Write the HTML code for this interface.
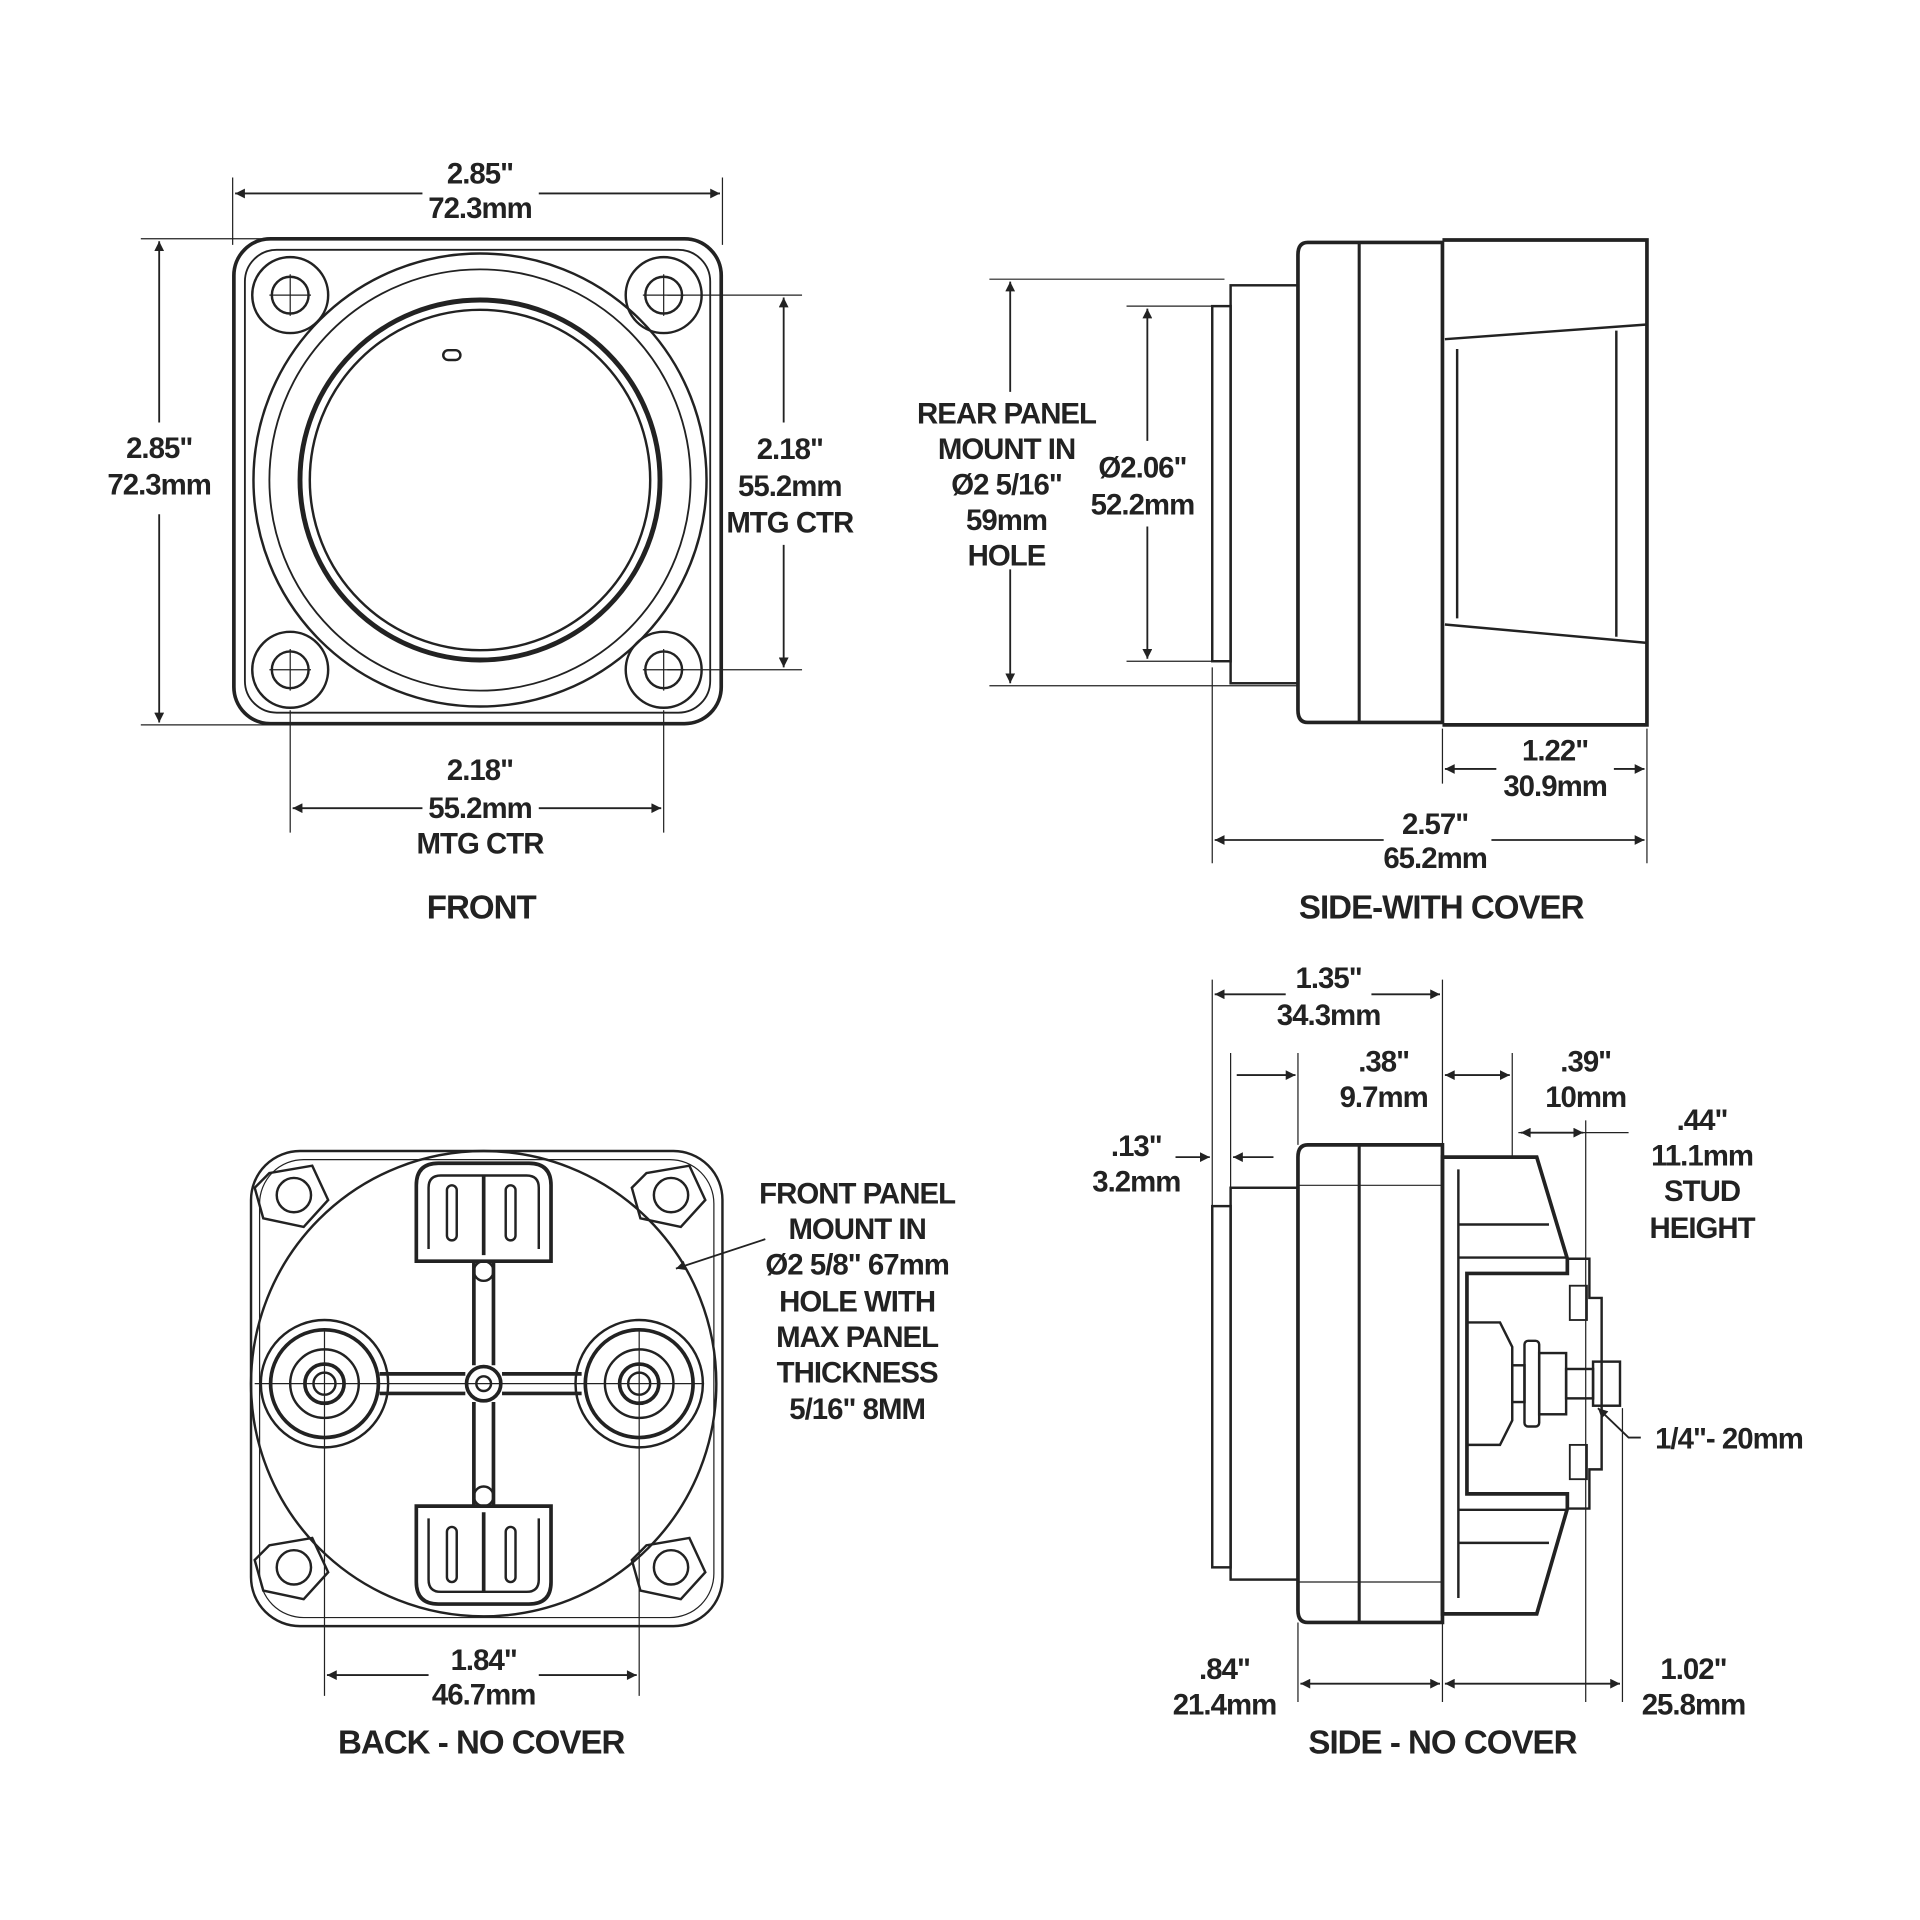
<!DOCTYPE html>
<html><head><style>
html,body{margin:0;padding:0;background:#fff;}
svg{display:block;}
text{font-family:"Liberation Sans Narrow","Liberation Sans",sans-serif;font-weight:bold;fill:#222;text-anchor:middle;font-size:24px;letter-spacing:-0.8px;}
.t{font-size:27px;}
</style></head><body>
<svg width="1920" height="1920" viewBox="0 0 1568 1568" xmlns="http://www.w3.org/2000/svg">
<defs>
<marker id="a" viewBox="0 0 10 10" refX="10" refY="5" markerWidth="14" markerHeight="8" orient="auto-start-reverse" markerUnits="userSpaceOnUse"><path d="M0,0L10,5L0,10z" fill="#222"/></marker>
</defs>
<g fill="none" stroke="#222" stroke-width="2">
<rect x="191" y="195" width="398" height="396" rx="30" stroke-width="3"/>
<rect x="200" y="204" width="380" height="378" rx="26" stroke-width="1.5"/>
<circle cx="392" cy="392" r="185" stroke-width="2"/>
<circle cx="392" cy="392" r="172" stroke-width="1.5"/>
<circle cx="392" cy="392" r="147" stroke-width="4"/>
<circle cx="392" cy="392" r="139" stroke-width="2"/>
<rect x="362" y="286" width="14" height="8" rx="4"/>
<g stroke-width="2">
<circle cx="237" cy="241" r="31"/><circle cx="237" cy="241" r="15"/>
<circle cx="542" cy="241" r="31"/><circle cx="542" cy="241" r="15"/>
<circle cx="237" cy="547" r="31"/><circle cx="237" cy="547" r="15"/>
<circle cx="542" cy="547" r="31"/><circle cx="542" cy="547" r="15"/>
</g>
<g stroke-width="1">
<path d="M220,241H254M237,224V258M525,241H559M542,224V258M220,547H254M237,530V564M525,547H559M542,530V564"/>
<path d="M190,145V200M590,145V200M115,195H230M115,592H250M545,241H655M545,547H655M237,580V680M542,580V680"/>
</g>
<g stroke-width="1.5">
<line x1="192" y1="158" x2="345" y2="158" marker-start="url(#a)"/><line x1="440" y1="158" x2="588" y2="158" marker-end="url(#a)"/>
<line x1="130" y1="197" x2="130" y2="345" marker-start="url(#a)"/><line x1="130" y1="420" x2="130" y2="590" marker-end="url(#a)"/>
<line x1="640" y1="243" x2="640" y2="345" marker-start="url(#a)"/><line x1="640" y1="445" x2="640" y2="545" marker-end="url(#a)"/>
<line x1="239" y1="660" x2="345" y2="660" marker-start="url(#a)"/><line x1="440" y1="660" x2="540" y2="660" marker-end="url(#a)"/>
</g>
<path d="M1068,198H1178V590H1068Q1060,590 1060,580V208Q1060,198 1068,198Z" stroke-width="3"/>
<line x1="1110" y1="198" x2="1110" y2="590" stroke-width="2.5"/>
<path d="M1178,196H1345V592H1178" stroke-width="3"/>
<path d="M1180,277L1345,265M1180,510L1345,525M1320,270V520M1190,285V505" stroke-width="2"/>
<rect x="1005" y="233" width="55" height="325" stroke-width="2"/>
<rect x="990" y="250" width="15" height="290" stroke-width="2"/>
<g stroke-width="1">
<path d="M808,228H1000M808,560H1060M920,250H990M920,540H990M990,545V705M1178,595V640M1345,595V705"/>
</g>
<g stroke-width="1.5">
<line x1="825" y1="230" x2="825" y2="320" marker-start="url(#a)"/><line x1="825" y1="465" x2="825" y2="558" marker-end="url(#a)"/>
<line x1="937" y1="252" x2="937" y2="360" marker-start="url(#a)"/><line x1="937" y1="430" x2="937" y2="538" marker-end="url(#a)"/>
<line x1="1180" y1="628" x2="1222" y2="628" marker-start="url(#a)"/><line x1="1318" y1="628" x2="1343" y2="628" marker-end="url(#a)"/>
<line x1="992" y1="686" x2="1130" y2="686" marker-start="url(#a)"/><line x1="1218" y1="686" x2="1343" y2="686" marker-end="url(#a)"/>
</g>
<rect x="205" y="940" width="385" height="388" rx="40" stroke-width="2"/>
<rect x="212" y="947" width="371" height="374" rx="36" stroke-width="1"/>
<circle cx="395" cy="1130" r="190" stroke-width="2"/>
<g stroke-width="2">
<polygon points="220,958 255,952 268,980 248,1002 215,995 208,970"/><circle cx="240" cy="976" r="14"/>
<polygon points="528,958 563,952 576,980 556,1002 523,995 516,970"/><circle cx="548" cy="976" r="14"/>
<polygon points="220,1262 255,1256 268,1284 248,1306 215,1299 208,1274"/><circle cx="240" cy="1280" r="14"/>
<polygon points="528,1262 563,1256 576,1284 556,1306 523,1299 516,1274"/><circle cx="548" cy="1280" r="14"/>
</g>
<g stroke-width="2">
<circle cx="265" cy="1130" r="52"/><circle cx="265" cy="1130" r="44" stroke-width="3"/><circle cx="265" cy="1130" r="28"/><circle cx="265" cy="1130" r="16" stroke-width="3"/><circle cx="265" cy="1130" r="9"/>
<circle cx="522" cy="1130" r="52"/><circle cx="522" cy="1130" r="44" stroke-width="3"/><circle cx="522" cy="1130" r="28"/><circle cx="522" cy="1130" r="16" stroke-width="3"/><circle cx="522" cy="1130" r="9"/>
<path d="M310,1122H380M410,1122H475M310,1138H380M410,1138H475" stroke-width="3"/>
<path d="M387,1030V1115M403,1030V1115M387,1145V1230M403,1145V1230" stroke-width="3"/>
<circle cx="395" cy="1130" r="14" stroke-width="3"/><circle cx="395" cy="1130" r="6"/>
<circle cx="395" cy="1038" r="8"/><circle cx="395" cy="1222" r="8"/>
<path d="M340,1030V968Q340,950 358,950H432Q450,950 450,968V1030Z" stroke-width="3"/>
<path d="M350,1020V970Q350,960 360,960H430Q440,960 440,970V1020" stroke-width="2"/>
<path d="M395,960V1025" stroke-width="3"/>
<rect x="365" y="968" width="8" height="45" rx="4"/><rect x="413" y="968" width="8" height="45" rx="4"/>
<path d="M340,1230V1292Q340,1310 358,1310H432Q450,1310 450,1292V1230Z" stroke-width="3"/>
<path d="M350,1240V1290Q350,1300 360,1300H430Q440,1300 440,1290V1240" stroke-width="2"/>
<path d="M395,1235V1300" stroke-width="3"/>
<rect x="365" y="1247" width="8" height="45" rx="4"/><rect x="413" y="1247" width="8" height="45" rx="4"/>
</g>
<g stroke-width="1"><path d="M265,1085V1385M522,1085V1385M208,1130H575"/></g>
<g stroke-width="1.5">
<line x1="267" y1="1368" x2="350" y2="1368" marker-start="url(#a)"/><line x1="440" y1="1368" x2="520" y2="1368" marker-end="url(#a)"/>
<line x1="625" y1="1012" x2="552" y2="1036" marker-end="url(#a)"/>
</g>
<path d="M1068,935H1178V1325H1068Q1060,1325 1060,1315V945Q1060,935 1068,935Z" stroke-width="3"/>
<line x1="1110" y1="935" x2="1110" y2="1325" stroke-width="2.5"/>
<path d="M1060,968H1178M1060,1292H1178" stroke-width="1"/>
<rect x="1005" y="970" width="55" height="320" stroke-width="2"/>
<rect x="990" y="985" width="15" height="295" stroke-width="2"/>
<path d="M1178,945H1255L1280,1028V1040H1198V1220H1280V1232L1255,1318H1178Z" stroke-width="3"/>
<path d="M1191,955V1305M1191,1027H1280M1191,1233H1280M1191,1000H1265M1191,1260H1265" stroke-width="2"/>
<path d="M1280,1028H1298V1060H1308V1200H1298V1232H1280" stroke-width="2"/>
<rect x="1282" y="1050" width="14" height="28" stroke-width="1.5"/><rect x="1282" y="1180" width="14" height="28" stroke-width="1.5"/>
<path d="M1198,1080H1225L1235,1100V1160L1225,1180H1198" stroke-width="2"/>
<rect x="1245" y="1095" width="12" height="70" rx="3" stroke-width="2"/>
<rect x="1257" y="1105" width="22" height="50" stroke-width="2"/>
<rect x="1235" y="1115" width="10" height="30" stroke-width="2"/>
<rect x="1279" y="1118" width="22" height="24" stroke-width="2"/>
<rect x="1301" y="1112" width="22" height="36" stroke-width="2"/>
<g stroke-width="1">
<path d="M990,800V985M1178,800V945M1005,860V985M1060,860V935M1235,860V945M1295,915V1390M1060,1325V1390M1178,1325V1390M1325,1150V1390M1240,925H1330"/>
</g>
<g stroke-width="1.5">
<line x1="992" y1="812" x2="1050" y2="812" marker-start="url(#a)"/><line x1="1120" y1="812" x2="1176" y2="812" marker-end="url(#a)"/>
<line x1="1010" y1="878" x2="1058" y2="878" marker-end="url(#a)"/>
<line x1="1180" y1="878" x2="1233" y2="878" marker-start="url(#a)" marker-end="url(#a)"/>
<line x1="960" y1="945" x2="988" y2="945" marker-end="url(#a)"/><line x1="1040" y1="945" x2="1007" y2="945" marker-end="url(#a)"/>
<line x1="1242" y1="925" x2="1293" y2="925" marker-start="url(#a)" marker-end="url(#a)"/>
<line x1="1062" y1="1375" x2="1176" y2="1375" marker-start="url(#a)" marker-end="url(#a)"/>
<line x1="1180" y1="1375" x2="1323" y2="1375" marker-start="url(#a)" marker-end="url(#a)"/>
<path d="M1340,1174H1330L1305,1150" marker-end="url(#a)"/>
</g>
</g>
<g>
<text x="392" y="150">2.85"</text><text x="392" y="178">72.3mm</text>
<text x="130" y="374">2.85"</text><text x="130" y="404">72.3mm</text>
<text x="645" y="375">2.18"</text><text x="645" y="405">55.2mm</text><text x="645" y="435">MTG CTR</text>
<text x="392" y="637">2.18"</text><text x="392" y="668">55.2mm</text><text x="392" y="697">MTG CTR</text>
<text x="393" y="750" class="t">FRONT</text>
<text x="822" y="346">REAR PANEL</text><text x="822" y="375">MOUNT IN</text><text x="822" y="404">Ø2 5/16"</text><text x="822" y="433">59mm</text><text x="822" y="462">HOLE</text>
<text x="933" y="390">Ø2.06"</text><text x="933" y="420">52.2mm</text>
<text x="1270" y="621">1.22"</text><text x="1270" y="650">30.9mm</text>
<text x="1172" y="681">2.57"</text><text x="1172" y="709">65.2mm</text>
<text x="1177" y="750" class="t">SIDE-WITH COVER</text>
<text x="700" y="983">FRONT PANEL</text><text x="700" y="1012">MOUNT IN</text><text x="700" y="1041">Ø2 5/8"  67mm</text><text x="700" y="1071">HOLE WITH</text><text x="700" y="1100">MAX PANEL</text><text x="700" y="1129">THICKNESS</text><text x="700" y="1159">5/16" 8MM</text>
<text x="395" y="1364">1.84"</text><text x="395" y="1392">46.7mm</text>
<text x="393" y="1432" class="t">BACK - NO COVER</text>
<text x="1085" y="807">1.35"</text><text x="1085" y="837">34.3mm</text>
<text x="1130" y="875">.38"</text><text x="1130" y="904">9.7mm</text>
<text x="1295" y="875">.39"</text><text x="1295" y="904">10mm</text>
<text x="1390" y="923">.44"</text><text x="1390" y="952">11.1mm</text><text x="1390" y="981">STUD</text><text x="1390" y="1011">HEIGHT</text>
<text x="928" y="944">.13"</text><text x="928" y="973">3.2mm</text>
<text x="1412" y="1183">1/4"- 20mm</text>
<text x="1000" y="1371">.84"</text><text x="1000" y="1400">21.4mm</text>
<text x="1383" y="1371">1.02"</text><text x="1383" y="1400">25.8mm</text>
<text x="1178" y="1432" class="t">SIDE - NO COVER</text>
</g>
</svg>
</body></html>
